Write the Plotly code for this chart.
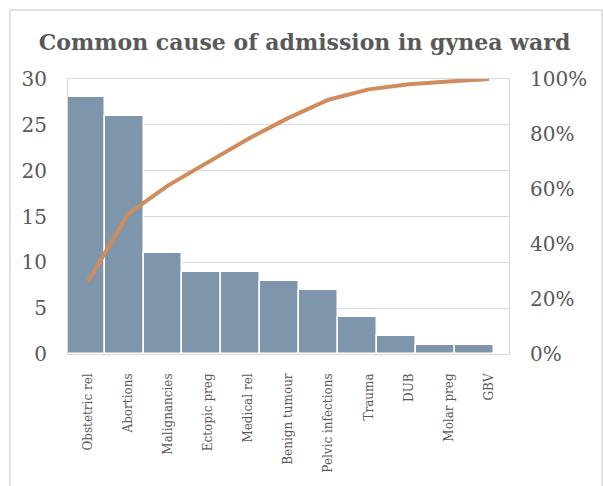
import plotly.graph_objects as go

categories = ["Obstetric rel", "Abortions", "Malignancies", "Ectopic preg", "Medical rel",
              "Benign tumour", "Pelvic infections", "Trauma", "DUB", "Molar preg", "GBV"]
counts = [28, 26, 11, 9, 9, 8, 7, 4, 2, 1, 1]
title_text = "Common cause of admission in gynea ward"

total = sum(counts)
cum = []
s = 0
for c in counts:
    s += c
    cum.append(s / total)

idx = list(range(len(categories)))
GRAY = "#595959"
GRID = "#d9d9d9"
SERIF = "DejaVu Serif"

fig = go.Figure()
fig.add_trace(go.Bar(
    x=idx, y=counts, xaxis="x", yaxis="y",
    marker=dict(color="#7e96ab", line=dict(color="#ffffff", width=1.5)),
    showlegend=False, hoverinfo="y"))
fig.add_trace(go.Scatter(
    x=categories, y=cum, xaxis="x2", yaxis="y2", mode="lines",
    line=dict(color="#d08c5c", width=4), showlegend=False))

fig.update_layout(
    width=603, height=486,
    margin=dict(l=68, r=94, t=79, b=132),
    paper_bgcolor="white", plot_bgcolor="white",
    bargap=0,
    title=dict(text="<b>" + title_text + "</b>", x=0.505, xanchor="center", y=0.912, yanchor="middle",
               font=dict(family=SERIF, size=22, color=GRAY)),
    xaxis=dict(range=[-0.44, 10.885], showticklabels=False, showgrid=False, zeroline=False,
               showline=True, linecolor=GRID, linewidth=1, mirror=True, ticks=""),
    xaxis2=dict(overlaying="x", anchor="y", side="bottom", type="category",
                range=[-0.5, 10.5], showgrid=False, zeroline=False, showline=False,
                tickangle=-90, ticklabelstandoff=16, ticks="",
                tickfont=dict(family=SERIF, size=12, color=GRAY)),
    yaxis=dict(range=[0, 30], dtick=5, showgrid=True, gridcolor=GRID, gridwidth=1,
               zeroline=False, showline=True, linecolor=GRID, linewidth=1, mirror=True,
               ticks="", ticklabelstandoff=16,
               tickfont=dict(family=SERIF, size=20, color=GRAY)),
    yaxis2=dict(overlaying="y", side="right", anchor="x", range=[0, 1], dtick=0.2,
                tickformat=".0%", showgrid=False, zeroline=False, showline=False,
                ticks="", ticklabelstandoff=20,
                tickfont=dict(family=SERIF, size=20, color=GRAY)),
    shapes=[dict(type="rect", xref="paper", yref="paper",
                 x0=(10 - 68) / 441, x1=(602 - 68) / 441,
                 y0=(354 - 500) / 275, y1=(354 - 10) / 275,
                 line=dict(color=GRID, width=1.5), fillcolor="rgba(0,0,0,0)", layer="below")],
)

fig.write_html("out.html")
